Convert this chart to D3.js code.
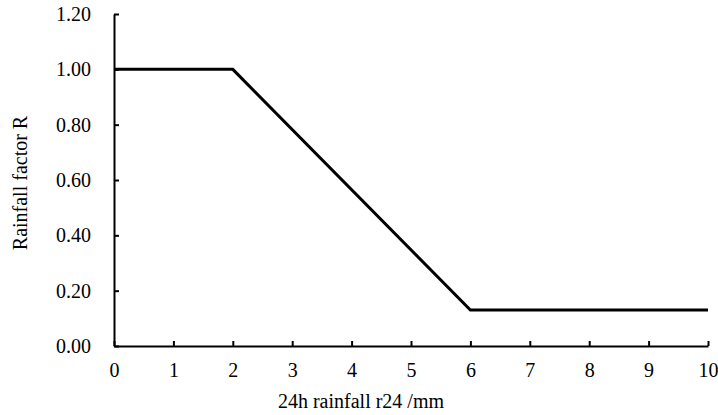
<!DOCTYPE html>
<html>
<head>
<meta charset="utf-8">
<script src="https://cdn.jsdelivr.net/npm/d3@7"></script>
<style>
  html, body { margin: 0; padding: 0; background: #fff; }
  svg { display: block; }
  text { font-family: "Liberation Serif", "Times New Roman", serif; fill: #000; }
</style>
</head>
<body>
<svg id="chart" width="718" height="415"></svg>
<script>
// Data
const rainfall = [0, 2, 6, 10];          // 24h rainfall r24 (mm)
const factorR  = [1.0, 1.0, 0.13, 0.13]; // rainfall factor R
const xTicks = [0, 1, 2, 3, 4, 5, 6, 7, 8, 9, 10];
const yTicks = [0, 0.2, 0.4, 0.6, 0.8, 1.0, 1.2];
const xTitle = "24h rainfall r24 /mm";
const yTitle = "Rainfall factor R";

(function () {
const svg = d3.select("#chart");
const mLeft = 114, mRight = 708, mTop = 14, mBottom = 346;

const x = d3.scaleLinear().domain([0, 10]).range([mLeft, mRight]);
const y = d3.scaleLinear().domain([0, 1.2]).range([mBottom, mTop]);

const fontSize = 20;
const ff = "Liberation Serif, Times New Roman, serif";

// Y axis
const yAxis = d3.axisLeft(y).tickValues(yTicks).tickSizeInner(-5).tickSizeOuter(0)
  .tickFormat(d3.format(".2f")).tickPadding(23);
const gy = svg.append("g").attr("transform", `translate(${mLeft},0)`).call(yAxis);
gy.select(".domain").attr("stroke", "#000").attr("stroke-width", 2);
gy.selectAll(".tick line").attr("stroke", "#000").attr("stroke-width", 2);
gy.selectAll(".tick text").attr("font-size", fontSize).attr("font-family", ff);

// X axis
const xAxis = d3.axisBottom(x).tickValues(xTicks).tickSizeInner(-5).tickSizeOuter(0)
  .tickFormat(d3.format("d")).tickPadding(17);
const gx = svg.append("g").attr("transform", `translate(0,${mBottom})`).call(xAxis);
gx.select(".domain").attr("stroke", "#000").attr("stroke-width", 2);
gx.selectAll(".tick line").attr("stroke", "#000").attr("stroke-width", 2);
gx.selectAll(".tick text").attr("font-size", fontSize).attr("font-family", ff);

// Line
const pts = rainfall.map((d, i) => [d, factorR[i]]);
svg.append("path")
  .datum(pts)
  .attr("fill", "none")
  .attr("stroke", "#000")
  .attr("stroke-width", 3)
  .attr("stroke-linejoin", "miter")
  .attr("d", d3.line().x(d => x(d[0])).y(d => y(d[1])));

// Titles
svg.append("text")
  .attr("x", 361)
  .attr("y", 408)
  .attr("text-anchor", "middle")
  .attr("font-size", fontSize)
  .attr("font-family", ff)
  .text(xTitle);

svg.append("text")
  .attr("transform", `translate(27,183) rotate(-90)`)
  .attr("text-anchor", "middle")
  .attr("font-size", fontSize)
  .attr("font-family", ff)
  .text(yTitle);
})();
</script>
</body>
</html>
